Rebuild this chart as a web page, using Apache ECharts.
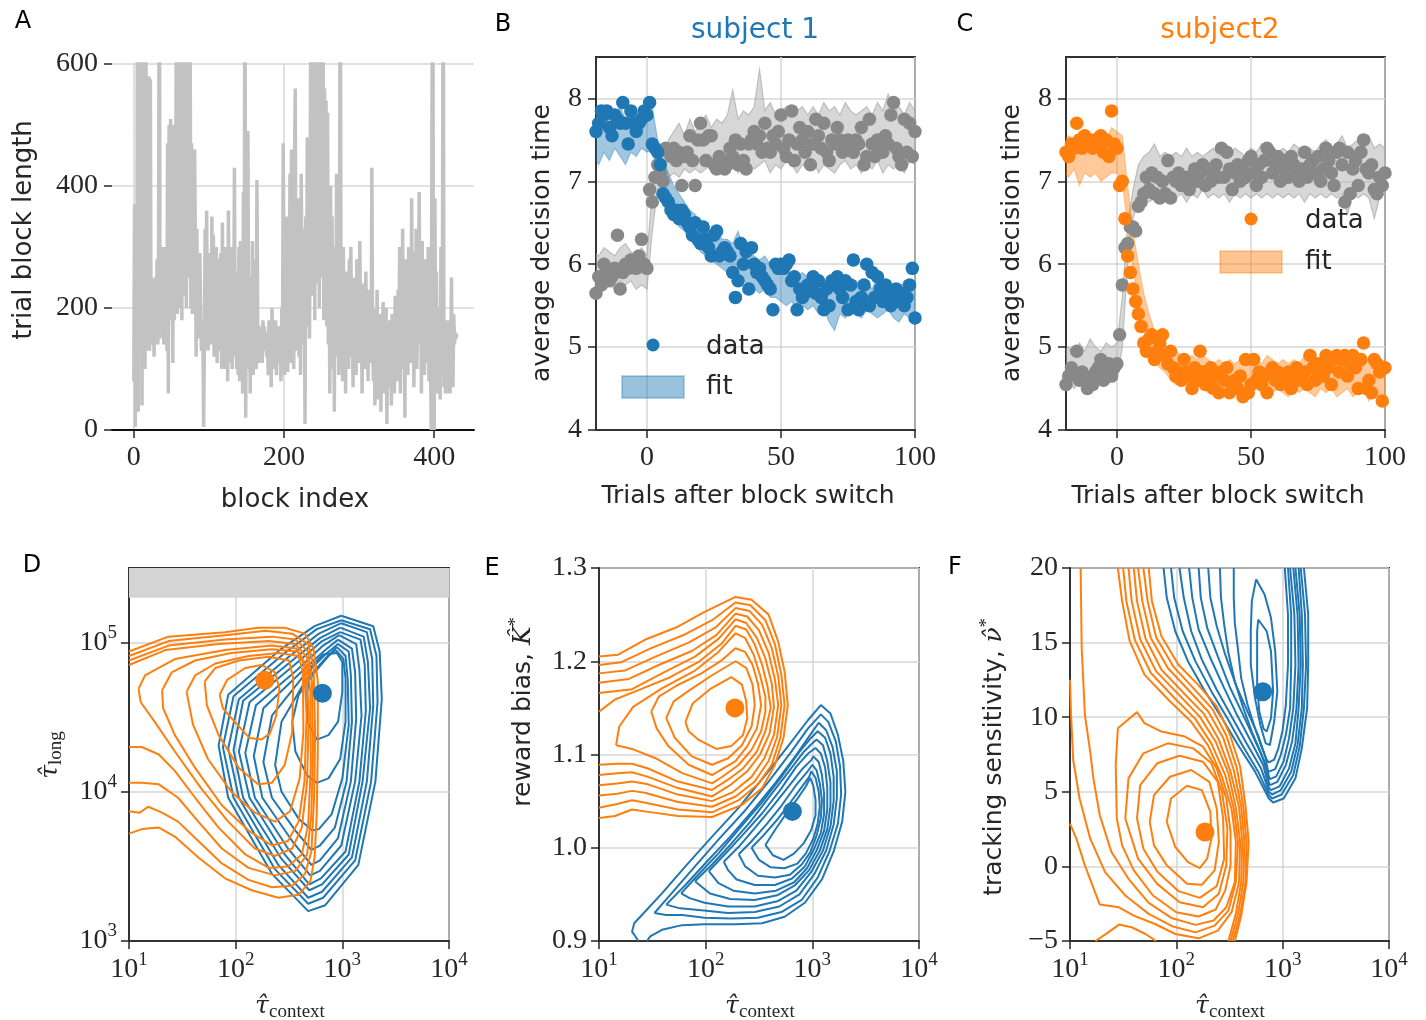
<!DOCTYPE html>
<html><head><meta charset="utf-8">
<script src="https://cdn.jsdelivr.net/npm/echarts@6/dist/echarts.min.js"></script>
<style>html,body{margin:0;padding:0;background:#fff}#c{width:1426px;height:1020px}</style>
</head><body><div id="c"></div>
<script>
// ---------------- DATA ----------------
// Panel A: trial block length per block index
const blockLengths = [
80,370,5,360,60,900,30,700,120,380,750,40,900,150,370,100,820,
130,570,140,580,130,575,160,250,140,200,120,210,250,170,
280,140,300,900,150,270,160,220,300,140,290,160,300,130,470,
60,500,180,510,200,440,110,500,180,300,400,
900,190,800,200,700,250,900,180,650,320,900,220,600,200,850,250,580,260,700,200,
470,190,430,240,460,310,120,330,200,180,150,290,200,130,180,150,
5,
140,330,160,360,150,130,290,150,260,140,350,160,320,120,230,150,300,110,250,140,280,130,290,100,340,150,200,100,300,120,230,80,360,110,200,150,300,
100,230,140,430,120,250,100,260,90,300,80,310,150,210,60,390,130,
900,
20,300,140,490,100,250,60,180,130,310,90,200,140,280,100,410,180,110,170,130,140,160,110,180,150,170,130,
160,120,150,90,180,120,160,70,200,150,100,170,130,180,90,150,110,170,140,160,
80,200,130,470,200,90,310,150,350,95,230,150,420,110,460,130,240,100,440,
560,130,240,160,380,120,300,90,420,200,330,140,260,10,350,170,480,200,300,150,420,
900,220,700,300,900,180,650,260,900,240,800,200,600,300,900,250,700,180,560,300,540,
170,520,140,300,60,400,160,350,100,280,30,300,140,420,120,260,90,340,900,
150,240,80,300,130,220,60,260,150,190,100,280,140,300,120,170,70,250,140,200,90,280,160,220,110,310,150,190,60,240,130,180,100,260,150,210,80,230,140,180,110,
430,
140,80,200,40,160,100,230,50,170,120,190,30,150,90,210,60,170,110,200,10,140,70,180,120,160,40,190,100,150,60,220,130,170,
80,230,130,300,60,250,150,330,100,200,20,280,140,220,90,300,160,250,110,380,130,200,70,290,150,330,100,240,170,390,140,260,60,310,120,200,90,280,150,230,110,300,80,260,140,
0,500,900,30,0,
380,100,260,60,200,110,160,50,300,90,250,900,70,180,60,
120,60,180,80,140,60,100,250,110,70,190,140,160,150,155,155,155
];

// Panels B, C: trials after block switch (-19 .. 100)
const trialFirst = -19, trialLast = 100;
const s1Data = [
7.6,7.7,7.85,7.8,7.85,7.65,7.55,7.8,7.75,7.7,
7.95,7.7,7.45,7.85,7.7,7.6,7.7,7.75,7.85,7.8,
7.95,7.45,7.4,7.35,7.2,6.85,6.8,6.75,6.65,6.6,
6.65,6.55,6.65,6.6,6.5,6.45,6.35,6.5,6.3,6.25,
6.45,6.3,6.2,6.1,6.35,6.4,6.1,6.15,6.2,6.15,
6.1,5.9,5.6,5.8,6.25,6.0,6.15,5.7,6.2,6.0,
5.9,5.95,5.85,5.8,5.75,5.7,5.45,6.0,5.95,6.0,
5.95,6.0,6.05,5.8,5.85,5.45,5.7,5.6,5.65,5.75,
5.7,5.85,5.65,5.8,5.6,5.45,5.7,5.5,5.8,5.75,
5.85,5.7,5.6,5.8,5.45,5.75,6.05,5.55,5.45,5.6,
5.75,6.0,5.5,5.9,5.6,5.85,5.7,5.55,5.75,5.65,
5.5,5.6,5.7,5.55,5.65,5.5,5.6,5.75,5.95,5.35];
const s1Other = [
5.65,5.85,5.75,6.0,5.9,5.8,5.85,5.95,6.35,5.7,
5.9,6.0,5.95,6.05,6.0,5.95,6.1,6.3,6.0,5.95,
6.9,6.75,7.05,7.2,7.1,7.0,7.4,7.35,7.3,7.4,
7.25,7.35,6.95,7.3,7.35,7.55,7.25,6.95,7.5,7.7,
7.5,7.25,7.55,7.55,7.2,7.15,7.3,7.25,7.15,7.2,
7.4,7.3,7.5,7.2,7.45,7.25,7.15,7.45,7.5,7.6,
7.45,7.55,7.35,7.7,7.4,7.35,7.55,7.45,7.6,7.8,
7.4,7.3,7.5,7.85,7.25,7.45,7.65,7.5,7.35,7.6,
7.2,7.45,7.75,7.55,7.4,7.7,7.35,7.25,7.5,7.45,
7.65,7.5,7.35,7.4,7.5,7.45,7.35,7.5,7.45,7.65,
7.2,7.3,7.75,7.45,7.3,7.5,7.4,7.35,7.55,7.45,
7.8,7.95,7.4,7.3,7.2,7.75,7.35,7.7,7.3,7.6];
const s2Data = [
7.35,7.3,7.45,7.4,7.7,7.5,7.4,7.55,7.45,7.5,
7.4,7.5,7.45,7.55,7.35,7.5,7.3,7.85,7.45,7.4,
6.95,7.0,6.55,6.1,5.9,5.7,5.55,5.4,5.25,5.05,
4.95,5.1,5.15,4.85,4.95,5.05,5.15,4.9,4.8,4.95,
4.75,4.65,4.7,4.6,4.85,4.7,4.65,4.5,4.75,4.6,
4.95,4.7,4.55,4.6,4.75,4.5,4.65,4.45,4.7,4.6,
4.75,4.45,4.55,4.6,4.5,4.65,4.4,4.85,4.45,4.55,
4.85,4.6,4.7,4.55,4.65,4.45,4.7,4.75,4.6,4.7,
4.55,4.65,4.6,4.7,4.5,4.65,4.75,4.6,4.65,4.7,
4.55,4.9,4.75,4.6,4.8,4.7,4.65,4.9,4.75,4.55,
4.85,4.9,4.7,4.85,4.9,4.65,4.8,4.9,4.75,4.5,
4.85,5.05,4.5,4.6,4.45,4.85,4.8,4.7,4.35,4.75];
const s2Other = [
4.55,4.65,4.75,4.7,4.95,4.6,4.7,4.65,4.5,4.6,
4.55,4.7,4.75,4.85,4.6,4.7,4.8,4.65,4.75,4.8,
5.15,5.75,6.2,6.25,6.45,6.45,6.4,6.7,6.75,6.85,
7.05,6.9,7.1,6.85,7.05,6.8,7.0,6.85,7.25,6.8,
7.05,7.0,7.1,6.95,7.0,7.05,6.9,7.05,7.15,7.0,
7.1,7.2,6.95,7.15,7.0,7.1,7.2,7.05,7.4,7.05,
7.35,7.15,6.9,7.1,7.2,7.0,7.15,7.05,7.25,7.3,
7.1,6.95,7.2,7.05,7.25,7.4,7.35,7.1,7.2,7.3,
7.0,7.15,7.25,7.05,7.3,7.2,7.1,7.0,7.15,7.35,
7.05,7.2,7.25,7.1,7.3,7.0,7.15,7.4,7.25,7.1,
6.95,7.35,7.4,7.2,6.75,7.35,6.85,7.15,7.25,6.95,
7.35,7.5,7.15,7.1,7.2,6.9,6.85,7.05,6.95,7.1];

// fit bands, every second trial from -20 to 100
const bandX = [-20,-18,-16,-14,-12,-10,-8,-6,-4,-2,0,2,4,6,8,10,12,14,16,18,20,22,24,26,28,30,32,34,36,38,40,42,44,46,48,50,52,54,56,58,60,62,64,66,68,70,72,74,76,78,80,82,84,86,88,90,92,94,96,98,100];
const s1FitLo = [7.3,7.2,7.35,7.25,7.4,7.3,7.2,7.35,7.3,7.4, 7.35,7.4,7.1,6.9,6.7,6.6,6.45,6.4,6.3,6.25, 6.15,6.1,6.05,6.0,5.95,5.9,5.85,5.8,5.8,5.75, 5.7,5.65,5.7,5.6,5.6,5.55,5.5,5.55,5.45,5.5, 5.45,5.5,5.4,5.45,5.3,5.2,5.4,5.35,5.45,5.4, 5.35,5.45,5.4,5.35,5.4,5.45,5.35,5.3,5.4,5.35, 5.4];
const s1FitHi = [7.8,7.9,7.75,7.85,7.8,7.9,7.75,7.85,7.8,7.9, 7.85,7.9,7.5,7.25,7.1,6.95,6.85,6.75,6.65,6.6, 6.5,6.45,6.4,6.45,6.3,6.3,6.25,6.4,6.2,6.15, 6.1,6.05,6.1,6.0,5.95,6.0,5.9,5.9,5.85,5.9, 5.85,5.8,5.85,5.8,5.75,5.8,5.75,5.85,5.75,5.8, 5.75,5.8,5.7,5.85,5.75,5.8,5.75,5.7,5.8,5.75, 5.7];
const s1OtherLo = [5.75,5.7,5.8,5.75,5.7,5.8,5.75,5.8,5.7,5.75, 5.7,6.4,6.9,7.0,7.05,7.1,7.05,7.15,7.1,7.15, 7.1,7.15,7.2,7.1,7.2,7.15,7.2,7.1,7.25,7.2, 7.15,7.2,7.25,7.1,7.2,7.15,7.25,7.2,7.1,7.2, 7.15,7.25,7.1,7.2,7.15,7.1,7.2,7.25,7.15,7.2, 7.1,7.2,7.15,7.25,7.1,7.2,7.15,7.2,7.1,7.25, 7.2];
const s1OtherHi = [6.15,6.1,6.2,6.15,6.1,6.2,6.25,6.15,6.1,6.2, 6.1,6.9,7.2,7.3,7.5,7.6,7.7,7.55,7.75,7.6, 7.7,7.8,7.65,7.75,7.7,7.8,8.1,7.75,7.85,7.8, 7.9,8.35,7.85,7.95,7.8,7.85,7.9,7.8,7.85,7.9, 7.8,7.9,7.8,7.95,7.85,7.9,7.8,7.95,7.85,7.8, 7.85,7.9,7.8,7.95,7.85,8.05,7.85,7.9,7.8,7.95, 7.85];
const s2FitLo = [7.1,7.05,7.15,6.95,7.1,7.05,7.1,7.0,7.05,7.1, 7.1,7.0,6.45,5.95,5.55,5.2,5.0,4.85,4.75,4.7, 4.6,4.55,4.6,4.55,4.5,4.55,4.5,4.45,4.5,4.45, 4.5,4.45,4.5,4.4,4.5,4.45,4.5,4.45,4.5,4.45, 4.5,4.45,4.4,4.5,4.45,4.5,4.45,4.4,4.5,4.45, 4.5,4.4,4.45,4.5,4.4,4.45,4.5,4.35,4.45,4.4, 4.45];
const s2FitHi = [7.5,7.55,7.5,7.6,7.55,7.5,7.6,7.55,7.5,7.65, 7.6,7.55,6.95,6.4,6.0,5.65,5.4,5.2,5.1,5.0, 4.95,4.95,4.9,4.85,4.9,4.85,4.9,4.85,4.8,4.85, 4.8,4.85,4.8,4.85,4.8,4.85,4.85,4.8,4.9,4.85, 4.8,4.85,4.8,4.85,4.8,4.9,4.85,4.8,4.85,4.9, 4.85,4.8,4.9,4.85,4.8,4.85,4.9,4.8,4.85,4.8, 4.85];
const s2OtherLo = [4.55,4.6,4.5,4.6,4.55,4.6,4.5,4.6,4.55,4.6, 4.6,5.0,6.0,6.55,6.75,6.8,6.75,6.8,6.85,6.8, 6.85,6.8,6.85,6.75,6.85,6.8,6.9,6.8,6.85,6.8, 6.85,6.75,6.85,6.8,6.85,6.8,6.85,6.8,6.85,6.8, 6.85,6.8,6.85,6.8,6.85,6.75,6.85,6.8,6.85,6.8, 6.85,6.8,6.85,6.6,6.85,6.8,6.85,6.8,6.55,6.8, 6.85];
const s2OtherHi = [4.95,5.0,4.9,5.05,4.95,5.1,5.0,4.95,5.05,5.0, 5.05,5.6,6.5,6.9,7.2,7.3,7.35,7.45,7.3,7.35, 7.3,7.35,7.3,7.4,7.3,7.35,7.3,7.35,7.4,7.3, 7.35,7.3,7.4,7.35,7.3,7.4,7.35,7.45,7.35,7.4, 7.35,7.4,7.35,7.45,7.4,7.35,7.4,7.35,7.45,7.5, 7.4,7.45,7.55,7.4,7.45,7.5,7.4,7.55,7.4,7.45, 7.4];

// Panels D-F: posterior density contours; x given as log10(tau_context)
// D: points are [log10 tau_context, log10 tau_long]
const dOrange = [
[[1.0,4.94],[1.37,5.04],[1.9,5.07],[2.21,5.10],[2.46,5.10],[2.65,5.06],[2.73,4.96],[2.77,4.74],[2.77,4.29],[2.76,3.85],[2.74,3.56],[2.7,3.40],[2.59,3.31],[2.4,3.29],[2.15,3.34],[1.9,3.42],[1.65,3.56],[1.43,3.70],[1.28,3.76],[1.12,3.75],[1.0,3.72]],
[[1.0,4.91],[1.37,5.01],[1.9,5.05],[2.28,5.08],[2.53,5.06],[2.68,4.99],[2.73,4.85],[2.745,4.40],[2.735,3.96],[2.71,3.60],[2.65,3.45],[2.53,3.37],[2.34,3.36],[2.12,3.41],[1.87,3.52],[1.65,3.67],[1.46,3.80],[1.31,3.86],[1.18,3.90],[1.1,3.86],[1.0,3.87]],
[[1.0,4.88],[1.37,4.98],[1.9,5.02],[2.34,5.04],[2.56,5.02],[2.68,4.94],[2.715,4.74],[2.725,4.29],[2.71,3.85],[2.67,3.58],[2.56,3.47],[2.37,3.44],[2.12,3.49],[1.87,3.62],[1.65,3.80],[1.46,3.96],[1.28,4.05],[1.12,4.06],[1.0,4.06]],
[[1.0,4.85],[1.34,4.95],[1.84,4.99],[2.31,5.01],[2.56,4.99],[2.67,4.9],[2.7,4.67],[2.705,4.18],[2.68,3.78],[2.62,3.58],[2.49,3.50],[2.31,3.49],[2.09,3.58],[1.84,3.76],[1.62,3.96],[1.43,4.14],[1.28,4.25],[1.12,4.30],[1.0,4.30]],
[[1.09,4.69],[1.15,4.78],[1.43,4.89],[1.9,4.95],[2.34,4.98],[2.57,4.96],[2.66,4.85],[2.685,4.51],[2.67,4.07],[2.62,3.76],[2.53,3.62],[2.37,3.57],[2.18,3.62],[1.93,3.80],[1.68,4.02],[1.43,4.27],[1.24,4.47],[1.11,4.60]],
[[1.31,4.68],[1.40,4.80],[1.62,4.88],[1.96,4.93],[2.34,4.955],[2.58,4.94],[2.64,4.86],[2.665,4.51],[2.645,4.07],[2.59,3.80],[2.49,3.67],[2.34,3.64],[2.12,3.74],[1.87,3.91],[1.62,4.16],[1.43,4.38],[1.32,4.56]],
[[1.54,4.67],[1.62,4.78],[1.81,4.86],[2.12,4.91],[2.4,4.93],[2.59,4.91],[2.63,4.80],[2.635,4.40],[2.6,4.09],[2.51,3.87],[2.37,3.80],[2.18,3.86],[1.96,4.0],[1.74,4.22],[1.6,4.45]],
[[1.71,4.74],[1.81,4.83],[2.03,4.88],[2.31,4.905],[2.5,4.88],[2.54,4.76],[2.53,4.40],[2.46,4.18],[2.34,4.06],[2.21,4.05],[2.03,4.16],[1.84,4.38],[1.73,4.58]],
[[1.85,4.65],[1.92,4.75],[2.09,4.83],[2.24,4.85],[2.37,4.80],[2.41,4.69],[2.38,4.51],[2.32,4.39],[2.24,4.35],[2.13,4.36],[1.99,4.47],[1.88,4.56]]
];
const dBlue = [
[[2.99,5.18],[3.29,5.11],[3.35,4.94],[3.37,4.62],[3.31,4.07],[3.15,3.51],[2.84,3.24],[2.68,3.2],[2.34,3.45],[1.93,3.96],[1.84,4.31],[1.93,4.65],[2.43,4.96],[2.74,5.11]],
[[2.99,5.15],[3.26,5.09],[3.32,4.91],[3.33,4.60],[3.27,4.07],[3.12,3.54],[2.82,3.29],[2.68,3.25],[2.37,3.48],[1.98,3.96],[1.88,4.30],[1.98,4.64],[2.46,4.93],[2.76,5.09]],
[[2.99,5.13],[3.23,5.07],[3.28,4.89],[3.29,4.58],[3.23,4.07],[3.09,3.56],[2.81,3.33],[2.68,3.29],[2.40,3.51],[2.03,3.96],[1.93,4.29],[2.03,4.62],[2.49,4.90],[2.78,5.06]],
[[2.98,5.10],[3.2,5.04],[3.24,4.87],[3.26,4.56],[3.19,4.07],[3.06,3.58],[2.81,3.38],[2.69,3.34],[2.43,3.55],[2.07,3.96],[1.98,4.28],[2.07,4.61],[2.53,4.88],[2.79,5.03]],
[[2.98,5.07],[3.17,5.02],[3.21,4.85],[3.22,4.54],[3.16,4.07],[3.03,3.60],[2.8,3.42],[2.69,3.38],[2.46,3.58],[2.13,3.96],[2.03,4.27],[2.13,4.60],[2.55,4.85],[2.81,5.01]],
[[2.97,5.05],[3.13,4.99],[3.16,4.82],[3.18,4.51],[3.12,4.07],[2.99,3.64],[2.79,3.47],[2.70,3.44],[2.49,3.62],[2.18,3.96],[2.09,4.26],[2.19,4.58],[2.58,4.82],[2.82,4.98]],
[[2.96,5.02],[3.09,4.96],[3.12,4.80],[3.13,4.49],[3.08,4.07],[2.96,3.69],[2.79,3.54],[2.71,3.51],[2.53,3.67],[2.25,3.96],[2.17,4.24],[2.26,4.56],[2.61,4.80],[2.84,4.95]],
[[2.96,4.99],[3.06,4.94],[3.08,4.78],[3.09,4.47],[3.04,4.07],[2.93,3.76],[2.79,3.64],[2.71,3.61],[2.56,3.74],[2.34,3.96],[2.26,4.20],[2.34,4.51],[2.63,4.77],[2.84,4.92]],
[[2.95,4.97],[3.03,4.91],[3.05,4.76],[3.06,4.45],[3.0,4.09],[2.9,3.85],[2.78,3.75],[2.72,3.74],[2.59,3.82],[2.43,4.0],[2.37,4.18],[2.43,4.47],[2.65,4.74],[2.85,4.9]],
[[2.94,4.95],[3.01,4.89],[3.03,4.76],[3.03,4.47],[2.98,4.22],[2.87,4.09],[2.76,4.06],[2.67,4.11],[2.56,4.27],[2.53,4.47],[2.59,4.65],[2.74,4.80],[2.87,4.91]],
[[2.95,4.93],[3.0,4.87],[3.0,4.67],[2.96,4.47],[2.87,4.38],[2.76,4.35],[2.68,4.46],[2.67,4.67],[2.71,4.84],[2.82,4.92]]
];
// E: points are [log10 tau_context, reward bias K*]
const eOrange = [
[[1.0,1.205],[1.18,1.207],[1.43,1.223],[1.74,1.237],[1.99,1.253],[2.28,1.269],[2.43,1.266],[2.59,1.25],[2.68,1.221],[2.74,1.189],[2.77,1.153],[2.73,1.118],[2.65,1.089],[2.53,1.064],[2.34,1.046],[2.06,1.033],[1.74,1.034],[1.43,1.039],[1.31,1.041],[1.15,1.034],[1.0,1.032]],
[[1.0,1.196],[1.21,1.199],[1.49,1.214],[1.81,1.229],[2.06,1.244],[2.28,1.263],[2.42,1.26],[2.56,1.244],[2.65,1.218],[2.71,1.185],[2.74,1.153],[2.7,1.118],[2.62,1.089],[2.49,1.068],[2.31,1.051],[2.06,1.038],[1.74,1.041],[1.4,1.049],[1.31,1.051],[1.17,1.047],[1.0,1.043]],
[[1.0,1.187],[1.24,1.19],[1.53,1.205],[1.84,1.22],[2.09,1.236],[2.28,1.257],[2.41,1.254],[2.53,1.239],[2.62,1.214],[2.68,1.184],[2.71,1.153],[2.67,1.119],[2.59,1.093],[2.46,1.071],[2.28,1.055],[2.06,1.044],[1.74,1.049],[1.43,1.059],[1.31,1.061],[1.17,1.058],[1.0,1.056]],
[[1.0,1.177],[1.28,1.181],[1.56,1.196],[1.87,1.211],[2.1,1.228],[2.28,1.251],[2.39,1.248],[2.5,1.233],[2.59,1.209],[2.65,1.18],[2.68,1.153],[2.64,1.121],[2.55,1.096],[2.43,1.076],[2.26,1.06],[2.06,1.05],[1.74,1.057],[1.46,1.068],[1.31,1.071],[1.17,1.069],[1.0,1.067]],
[[1.0,1.166],[1.31,1.17],[1.59,1.187],[1.9,1.205],[2.12,1.224],[2.28,1.245],[2.38,1.241],[2.48,1.225],[2.56,1.203],[2.62,1.176],[2.64,1.151],[2.6,1.123],[2.51,1.1],[2.39,1.082],[2.24,1.068],[2.06,1.055],[1.74,1.064],[1.46,1.076],[1.31,1.081],[1.17,1.08],[1.0,1.078]],
[[1.0,1.146],[1.15,1.159],[1.37,1.169],[1.65,1.182],[1.93,1.199],[2.15,1.219],[2.28,1.238],[2.38,1.234],[2.46,1.218],[2.53,1.196],[2.58,1.173],[2.61,1.15],[2.56,1.125],[2.48,1.103],[2.35,1.085],[2.21,1.073],[2.06,1.062],[1.74,1.071],[1.46,1.085],[1.31,1.09],[1.17,1.09],[1.0,1.089]],
[[1.16,1.11],[1.19,1.13],[1.32,1.151],[1.59,1.171],[1.9,1.19],[2.12,1.21],[2.28,1.23],[2.37,1.225],[2.45,1.207],[2.51,1.185],[2.56,1.162],[2.56,1.146],[2.52,1.125],[2.43,1.105],[2.31,1.089],[2.18,1.078],[2.06,1.069],[1.78,1.08],[1.53,1.096],[1.31,1.106]],
[[1.49,1.146],[1.56,1.162],[1.73,1.174],[1.96,1.187],[2.15,1.201],[2.28,1.214],[2.37,1.21],[2.44,1.196],[2.49,1.176],[2.52,1.153],[2.48,1.128],[2.39,1.109],[2.28,1.093],[2.15,1.084],[2.06,1.078],[1.84,1.089],[1.65,1.109],[1.54,1.128]],
[[1.63,1.139],[1.7,1.157],[1.85,1.169],[2.06,1.185],[2.28,1.2],[2.38,1.193],[2.44,1.175],[2.46,1.153],[2.43,1.13],[2.34,1.11],[2.21,1.096],[2.06,1.089],[1.87,1.098],[1.71,1.118]],
[[1.81,1.135],[1.88,1.155],[2.04,1.17],[2.24,1.183],[2.34,1.175],[2.38,1.157],[2.39,1.139],[2.35,1.121],[2.24,1.109],[2.1,1.106],[1.93,1.116],[1.84,1.125]]
];
const eBlue = [
[[1.37,0.9],[1.31,0.91],[1.33,0.919],[1.42,0.93],[1.59,0.951],[1.81,0.98],[2.06,1.012],[2.31,1.043],[2.56,1.078],[2.78,1.11],[2.96,1.137],[3.08,1.153],[3.17,1.144],[3.24,1.121],[3.29,1.093],[3.31,1.06],[3.28,1.028],[3.2,0.996],[3.09,0.966],[2.93,0.941],[2.74,0.926],[2.53,0.919],[2.28,0.918],[1.99,0.918],[1.78,0.917],[1.59,0.912],[1.48,0.905],[1.45,0.9]],
[[1.52,0.93],[1.68,0.951],[1.9,0.98],[2.13,1.01],[2.37,1.04],[2.59,1.071],[2.79,1.101],[2.96,1.128],[3.08,1.143],[3.15,1.135],[3.22,1.114],[3.26,1.087],[3.27,1.057],[3.24,1.026],[3.16,0.996],[3.05,0.968],[2.9,0.944],[2.71,0.931],[2.49,0.925],[2.24,0.924],[1.99,0.925],[1.78,0.928],[1.63,0.928]],
[[1.63,0.939],[1.81,0.96],[2.01,0.985],[2.23,1.012],[2.45,1.041],[2.65,1.069],[2.84,1.098],[2.98,1.121],[3.06,1.134],[3.13,1.126],[3.19,1.108],[3.23,1.082],[3.23,1.053],[3.2,1.025],[3.13,0.997],[3.02,0.972],[2.88,0.95],[2.69,0.937],[2.46,0.931],[2.21,0.93],[1.96,0.933],[1.76,0.935]],
[[1.77,0.951],[1.93,0.971],[2.12,0.994],[2.32,1.021],[2.53,1.049],[2.71,1.076],[2.88,1.103],[2.99,1.118],[3.05,1.125],[3.12,1.118],[3.17,1.101],[3.2,1.076],[3.2,1.05],[3.17,1.023],[3.1,0.997],[2.99,0.974],[2.85,0.954],[2.68,0.943],[2.46,0.937],[2.21,0.937],[1.99,0.941],[1.85,0.946]],
[[1.9,0.964],[2.06,0.982],[2.23,1.003],[2.42,1.028],[2.6,1.055],[2.78,1.082],[2.92,1.103],[3.0,1.112],[3.04,1.116],[3.1,1.11],[3.14,1.093],[3.17,1.07],[3.17,1.045],[3.14,1.02],[3.07,0.997],[2.97,0.976],[2.84,0.96],[2.67,0.949],[2.46,0.944],[2.23,0.945],[2.04,0.951]],
[[2.03,0.975],[2.18,0.993],[2.35,1.014],[2.53,1.037],[2.7,1.062],[2.85,1.087],[2.96,1.101],[3.03,1.107],[3.08,1.101],[3.12,1.086],[3.14,1.065],[3.14,1.041],[3.11,1.018],[3.04,0.997],[2.95,0.978],[2.83,0.963],[2.66,0.954],[2.46,0.951],[2.26,0.954],[2.12,0.962]],
[[2.17,0.985],[2.31,1.001],[2.46,1.021],[2.62,1.043],[2.78,1.066],[2.91,1.085],[2.99,1.094],[3.01,1.098],[3.06,1.092],[3.09,1.078],[3.11,1.058],[3.11,1.036],[3.08,1.016],[3.01,0.997],[2.93,0.98],[2.81,0.967],[2.65,0.96],[2.46,0.96],[2.29,0.966],[2.21,0.976]],
[[2.31,0.993],[2.43,1.007],[2.57,1.025],[2.71,1.045],[2.84,1.066],[2.95,1.081],[3.0,1.089],[3.04,1.083],[3.07,1.069],[3.09,1.051],[3.08,1.032],[3.04,1.013],[2.98,0.995],[2.9,0.982],[2.79,0.971],[2.65,0.968],[2.49,0.97],[2.37,0.98]],
[[2.43,1.0],[2.54,1.013],[2.67,1.03],[2.79,1.048],[2.9,1.065],[2.97,1.076],[2.99,1.082],[3.03,1.075],[3.06,1.06],[3.07,1.044],[3.05,1.026],[3.01,1.01],[2.94,0.994],[2.86,0.983],[2.74,0.978],[2.61,0.979],[2.5,0.987]],
[[2.56,1.003],[2.65,1.019],[2.74,1.034],[2.85,1.051],[2.94,1.066],[2.98,1.075],[3.01,1.066],[3.03,1.051],[3.03,1.035],[2.99,1.019],[2.92,1.005],[2.83,0.994],[2.73,0.987],[2.63,0.992]]
];
// F: points are [log10 tau_context, tracking sensitivity nu*]
const fOrange = [
[[1.74,20],[1.77,17.78],[1.86,15.43],[2.02,13.52],[2.21,12.13],[2.38,10.72],[2.5,8.92],[2.6,6.68],[2.65,4.1],[2.68,1.64],[2.66,-1.05],[2.61,-3.3],[2.55,-5]],
[[1.69,20],[1.73,17.78],[1.81,15.36],[1.97,13.41],[2.16,11.95],[2.34,10.54],[2.47,8.77],[2.57,6.57],[2.63,4.06],[2.66,1.64],[2.65,-1.05],[2.6,-3.25],[2.53,-5]],
[[1.64,20],[1.68,17.78],[1.76,15.31],[1.92,13.3],[2.12,11.77],[2.3,10.38],[2.44,8.63],[2.54,6.46],[2.61,4.01],[2.64,1.64],[2.63,-1.05],[2.58,-3.21],[2.51,-5]],
[[1.6,20],[1.63,17.78],[1.71,15.27],[1.86,13.18],[2.07,11.61],[2.26,10.22],[2.4,8.5],[2.51,6.35],[2.59,3.97],[2.62,1.64],[2.61,-1.05],[2.56,-3.16],[2.49,-5]],
[[1.55,20],[1.58,17.78],[1.66,15.22],[1.81,13.07],[2.03,11.46],[2.22,10.04],[2.37,8.36],[2.49,6.23],[2.56,3.92],[2.6,1.64],[2.59,-1.05],[2.52,-3.07],[2.39,-4.3],[2.21,-4.82],[1.99,-4.53],[1.8,-3.86],[1.6,-3.3],[1.46,-2.74],[1.28,-2.56],[1.14,0.07],[1.06,1.86],[1.0,2.87]],
[[1.5,20],[1.53,17.78],[1.61,15.18],[1.76,12.96],[1.98,11.3],[2.18,9.87],[2.33,8.23],[2.46,6.12],[2.54,3.88],[2.58,1.64],[2.56,-1.05],[2.49,-2.96],[2.36,-3.97],[2.18,-4.42],[1.96,-4.01],[1.74,-3.18],[1.52,-1.95],[1.33,-0.38],[1.19,1.86],[1.09,4.55],[1.03,7.13],[1.01,10.16],[1.0,12.51]],
[[1.45,20],[1.49,17.78],[1.56,15.13],[1.7,12.85],[1.93,11.14],[2.14,9.69],[2.3,8.09],[2.43,6.01],[2.52,3.83],[2.56,1.64],[2.55,-1.05],[2.47,-2.74],[2.35,-3.63],[2.18,-3.92],[1.96,-3.48],[1.74,-2.44],[1.55,-0.83],[1.39,0.96],[1.28,3.43],[1.22,5.9],[1.19,7.69],[1.14,10.16],[1.11,14.64],[1.1,20]],
[[1.44,3.21],[1.43,6.79],[1.45,9.26],[1.63,10.34],[1.7,9.6],[1.86,9.04],[2.08,8.7],[2.25,8.03],[2.38,6.57],[2.47,4.55],[2.51,2.31],[2.51,0.07],[2.46,-1.61],[2.37,-2.89],[2.21,-3.36],[2.0,-3.07],[1.78,-1.95],[1.6,-0.27],[1.49,1.41]],
[[1.52,3.21],[1.55,5.9],[1.69,7.58],[1.92,8.25],[2.16,7.91],[2.33,6.91],[2.43,5.0],[2.48,2.53],[2.47,0.07],[2.4,-1.84],[2.25,-2.74],[2.03,-2.4],[1.82,-1.17],[1.64,0.52]],
[[1.63,3.21],[1.66,5.45],[1.82,6.91],[2.03,7.42],[2.25,7.02],[2.39,5.67],[2.44,3.21],[2.45,0.52],[2.38,-1.32],[2.22,-2.11],[2.02,-1.66],[1.82,-0.34],[1.69,1.19]],
[[1.75,2.98],[1.79,4.78],[1.94,6.01],[2.14,6.46],[2.31,5.67],[2.38,3.88],[2.4,1.64],[2.36,-0.27],[2.24,-1.23],[2.1,-1.17],[1.91,0.07],[1.79,1.41]],
[[1.91,2.98],[1.95,4.55],[2.1,5.4],[2.24,5.11],[2.32,3.65],[2.33,1.86],[2.29,0.52],[2.22,-0.11],[2.11,0.29],[1.99,1.3]],
[[1.24,-5],[1.36,-4.42],[1.46,-3.9],[1.58,-4.08],[1.71,-4.53],[1.81,-5]]
];
const fBlue = [
[[1.88,20],[1.91,18.0],[1.99,15.76],[2.11,13.74],[2.27,11.73],[2.43,9.93],[2.58,8.14],[2.74,6.35],[2.87,4.55],[2.91,4.28],[3.01,4.55],[3.12,5.9],[3.18,7.91],[3.23,10.61],[3.24,13.52],[3.24,16.88],[3.2,20]],
[[1.95,20],[1.98,18.0],[2.06,15.76],[2.18,13.74],[2.33,11.73],[2.48,9.93],[2.62,8.14],[2.77,6.35],[2.87,4.78],[2.9,4.55],[2.99,4.82],[3.1,6.12],[3.16,8.03],[3.2,10.61],[3.22,13.52],[3.21,16.88],[3.17,20]],
[[2.03,20],[2.07,18.0],[2.14,15.76],[2.24,13.86],[2.38,11.84],[2.52,10.04],[2.66,8.25],[2.8,6.52],[2.87,5.0],[2.9,4.82],[2.98,5.09],[3.08,6.35],[3.14,8.14],[3.18,10.61],[3.19,13.52],[3.18,16.88],[3.15,20]],
[[2.12,20],[2.15,18.0],[2.21,15.87],[2.32,13.97],[2.45,11.95],[2.57,10.16],[2.7,8.41],[2.82,6.75],[2.87,5.27],[2.89,5.11],[2.97,5.36],[3.06,6.57],[3.12,8.25],[3.15,10.61],[3.17,13.52],[3.16,16.88],[3.12,20]],
[[2.21,20],[2.23,18.0],[2.29,15.99],[2.39,14.08],[2.5,12.06],[2.62,10.27],[2.73,8.59],[2.83,7.02],[2.87,5.63],[2.88,5.45],[2.95,5.67],[3.03,6.79],[3.09,8.41],[3.13,10.61],[3.15,13.52],[3.14,16.88],[3.1,20]],
[[2.3,20],[2.32,18.0],[2.38,16.1],[2.46,14.19],[2.56,12.17],[2.67,10.38],[2.77,8.77],[2.84,7.29],[2.87,6.01],[2.88,5.85],[2.94,6.03],[3.01,7.06],[3.06,8.59],[3.1,10.61],[3.12,13.52],[3.11,16.88],[3.07,20]],
[[2.41,20],[2.42,18.0],[2.45,16.21],[2.49,14.3],[2.55,12.4],[2.63,10.61],[2.71,9.04],[2.79,7.69],[2.85,6.52],[2.87,6.35],[2.93,6.52],[2.98,7.42],[3.03,8.81],[3.07,10.61],[3.08,13.52],[3.08,16.88],[3.05,20]],
[[2.54,20],[2.54,18.0],[2.55,16.32],[2.58,14.53],[2.61,12.62],[2.67,10.83],[2.74,9.26],[2.8,8.03],[2.85,7.13],[2.87,6.97],[2.92,7.15],[2.96,7.91],[3.0,9.15],[3.03,10.83],[3.05,13.52],[3.05,16.88],[3.02,20]],
[[2.75,19.24],[2.83,18.23],[2.89,16.66],[2.93,14.42],[2.95,11.73],[2.92,9.71],[2.88,8.14],[2.84,8.25],[2.79,9.48],[2.74,11.28],[2.7,13.52],[2.7,15.76],[2.71,17.78]],
[[2.77,16.55],[2.85,15.76],[2.89,14.42],[2.91,11.73],[2.89,9.93],[2.85,9.04],[2.82,9.22],[2.78,10.38],[2.76,12.17],[2.76,14.42],[2.76,15.76]]
];
// best-fit points [tau_context, parameter]
const dBest = {orange: [188, 56000], blue: [650, 45700]};
const eBest = {orange: [188, 1.15], blue: [650, 1.039]};
const fBest = {orange: [186, 2.3], blue: [650, 11.7]};
const dPriorBound = [200000, 316228]; // excluded tau_long range (grey band)

// tick values
const ticksA_x = [0, 200, 400];
const ticksBC_x = [0, 50, 100];
const ticksBC_y = [4, 5, 6, 7, 8];
const ticksLogX = [10, 100, 1000, 10000];
const ticksD_y = [1000, 10000, 100000];
const ticksE_y = [0.9, 1.0, 1.1, 1.2, 1.3];

// ---------------- STYLE ----------------
const BLUE = '#1f77b4', ORANGE = '#ff7f0e', GREY = '#888888';
const SERIF = 'Liberation Serif', SANS = 'DejaVu Sans';
const INK = '#262626', GRIDC = '#d6d6d6';

const chart = echarts.init(document.getElementById('c'), null, {renderer: 'canvas'});

const grids = [
  {left: 112, top: 64, width: 362, height: 366},
  {left: 596, top: 57, width: 319, height: 373},
  {left: 1066, top: 57, width: 319, height: 373},
  {left: 129, top: 568, width: 320, height: 373},
  {left: 599, top: 568, width: 320, height: 373},
  {left: 1070, top: 568, width: 319, height: 373}
].map((g, i) => Object.assign({
  show: i > 0, borderColor: '#333', borderWidth: 2, backgroundColor: 'rgba(0,0,0,0)',
  containLabel: false, outerBoundsMode: 'none'
}, g));

const tickStyle = {show: true, inside: false, length: 8, lineStyle: {color: INK, width: 1.5}};
const splitStyle = {show: true, lineStyle: {color: GRIDC, width: 1.5}};
const lblBase = {fontFamily: SERIF, fontSize: 28, color: INK};
const logLabel = (vals, margin) => ({
  customValues: vals, margin: margin, fontFamily: SERIF, fontSize: 28, color: INK,
  formatter: v => '{b|10}{s|' + Math.round(Math.log10(v)) + '}',
  rich: {b: {fontFamily: SERIF, fontSize: 28, color: INK, lineHeight: 38},
         s: {fontFamily: SERIF, fontSize: 19, color: INK, verticalAlign: 'top', lineHeight: 19}}
});
const boxAxisLine = {show: true, onZero: false, lineStyle: {color: '#333', width: 2}};

const xAxes = [
  {gridIndex: 0, type: 'value', min: -29, max: 453,
   axisLine: {show: true, onZero: false, lineStyle: {color: '#111', width: 2}},
   axisTick: Object.assign({customValues: ticksA_x}, tickStyle),
   axisLabel: Object.assign({customValues: ticksA_x, margin: 14}, lblBase), splitLine: splitStyle},
  {gridIndex: 1, type: 'value', min: trialFirst, max: trialLast, axisLine: boxAxisLine,
   axisTick: Object.assign({customValues: ticksBC_x}, tickStyle),
   axisLabel: Object.assign({customValues: ticksBC_x, margin: 14}, lblBase), splitLine: splitStyle},
  {gridIndex: 2, type: 'value', min: trialFirst, max: trialLast, axisLine: boxAxisLine,
   axisTick: Object.assign({customValues: ticksBC_x}, tickStyle),
   axisLabel: Object.assign({customValues: ticksBC_x, margin: 14}, lblBase), splitLine: splitStyle},
  {gridIndex: 3, type: 'log', logBase: 10, min: 10, max: 10000, axisLine: boxAxisLine,
   axisTick: Object.assign({customValues: ticksLogX}, tickStyle), minorTick: {show: false},
   axisLabel: logLabel(ticksLogX, 10), splitLine: splitStyle},
  {gridIndex: 4, type: 'log', logBase: 10, min: 10, max: 10000, axisLine: boxAxisLine,
   axisTick: Object.assign({customValues: ticksLogX}, tickStyle), minorTick: {show: false},
   axisLabel: logLabel(ticksLogX, 10), splitLine: splitStyle},
  {gridIndex: 5, type: 'log', logBase: 10, min: 10, max: 10000, axisLine: boxAxisLine,
   axisTick: Object.assign({customValues: ticksLogX}, tickStyle), minorTick: {show: false},
   axisLabel: logLabel(ticksLogX, 10), splitLine: splitStyle}
];
const yAxes = [
  {gridIndex: 0, type: 'value', min: 0, max: 600, interval: 200,
   axisLine: {show: false, onZero: false}, axisTick: tickStyle,
   axisLabel: Object.assign({margin: 14}, lblBase), splitLine: splitStyle},
  {gridIndex: 1, type: 'value', min: 4, max: 8.5, axisLine: boxAxisLine,
   axisTick: Object.assign({customValues: ticksBC_y}, tickStyle),
   axisLabel: Object.assign({customValues: ticksBC_y, margin: 14}, lblBase), splitLine: splitStyle},
  {gridIndex: 2, type: 'value', min: 4, max: 8.5, axisLine: boxAxisLine,
   axisTick: Object.assign({customValues: ticksBC_y}, tickStyle),
   axisLabel: Object.assign({customValues: ticksBC_y, margin: 14}, lblBase), splitLine: splitStyle},
  {gridIndex: 3, type: 'log', logBase: 10, min: 1000, max: dPriorBound[1], axisLine: boxAxisLine,
   axisTick: Object.assign({customValues: ticksD_y}, tickStyle), minorTick: {show: false},
   axisLabel: logLabel(ticksD_y, 12), splitLine: splitStyle},
  {gridIndex: 4, type: 'value', min: 0.9, max: 1.3, axisLine: boxAxisLine,
   axisTick: Object.assign({customValues: ticksE_y}, tickStyle),
   axisLabel: Object.assign({customValues: ticksE_y, margin: 12, formatter: v => v.toFixed(1)}, lblBase),
   splitLine: splitStyle},
  {gridIndex: 5, type: 'value', min: -5, max: 20, interval: 5, axisLine: boxAxisLine,
   axisTick: tickStyle,
   axisLabel: Object.assign({margin: 12, formatter: v => (v < 0 ? '\u2212' + Math.abs(v) : '' + v)}, lblBase),
   splitLine: splitStyle}
];

const series = [];
// Panel A
series.push({type: 'line', xAxisIndex: 0, yAxisIndex: 0, showSymbol: false, silent: true, clip: true,
  data: blockLengths.map((v, i) => [i, v]), lineStyle: {color: '#c2c2c2', width: 3.5}, z: 2});

// Bands (custom polygons through the axes' coordinate system)
function bandSeries(ai, lo, hi, fill, edge) {
  return {
    type: 'custom', xAxisIndex: ai, yAxisIndex: ai, clip: true, silent: true, z: 2,
    data: bandX.map((x, i) => [x, lo[i], hi[i]]),
    encode: {x: 0, y: [1, 2]},
    renderItem: function (params, api) {
      if (params.dataIndex !== 0) return;
      const up = bandX.map((x, i) => api.coord([x, hi[i]]));
      const dn = bandX.map((x, i) => api.coord([x, lo[i]]));
      return {type: 'group', children: [
        {type: 'polygon', shape: {points: up.concat(dn.slice().reverse())}, style: {fill: fill}},
        {type: 'polyline', shape: {points: up}, style: {stroke: edge, fill: null, lineWidth: 1.2}},
        {type: 'polyline', shape: {points: dn}, style: {stroke: edge, fill: null, lineWidth: 1.2}}
      ]};
    }
  };
}
const trials = [];
for (let t = trialFirst; t <= trialLast; t++) trials.push(t);
const DOT = 13.5;
series.push(bandSeries(1, s1OtherLo, s1OtherHi, 'rgba(175,175,175,0.5)', 'rgba(160,160,160,0.6)'));
series.push(bandSeries(1, s1FitLo, s1FitHi, 'rgba(31,119,180,0.42)', 'rgba(31,119,180,0.35)'));
series.push({type: 'scatter', xAxisIndex: 1, yAxisIndex: 1, symbolSize: DOT, silent: true, z: 3,
  itemStyle: {color: GREY, opacity: 1}, data: trials.map((t, i) => [t, s1Other[i]])});
series.push({type: 'scatter', xAxisIndex: 1, yAxisIndex: 1, symbolSize: DOT, silent: true, z: 4,
  itemStyle: {color: BLUE, opacity: 1}, data: trials.map((t, i) => [t, s1Data[i]])});
series.push(bandSeries(2, s2OtherLo, s2OtherHi, 'rgba(175,175,175,0.5)', 'rgba(160,160,160,0.6)'));
series.push(bandSeries(2, s2FitLo, s2FitHi, 'rgba(255,127,14,0.42)', 'rgba(255,127,14,0.35)'));
series.push({type: 'scatter', xAxisIndex: 2, yAxisIndex: 2, symbolSize: DOT, silent: true, z: 3,
  itemStyle: {color: GREY, opacity: 1}, data: trials.map((t, i) => [t, s2Other[i]])});
series.push({type: 'scatter', xAxisIndex: 2, yAxisIndex: 2, symbolSize: DOT, silent: true, z: 4,
  itemStyle: {color: ORANGE, opacity: 1}, data: trials.map((t, i) => [t, s2Data[i]])});

// Contours
function contourSeries(ai, lines, color, logY, yr) {
  lines.forEach(pts => {
    const first = pts[0];
    const onEdge = p => p[0] <= 1.0001 || p[0] >= 3.9999 || p[1] <= yr[0] + 1e-6 || p[1] >= yr[1] - 1e-6;
    const closed = !onEdge(first);
    const seq = closed ? pts.concat([first]) : pts;
    series.push({type: 'line', xAxisIndex: ai, yAxisIndex: ai, showSymbol: false, silent: true, clip: true,
      smooth: false, z: 3,
      lineStyle: {color: color, width: 2},
      data: seq.map(p => [Math.pow(10, p[0]), logY ? Math.pow(10, p[1]) : p[1]])});
  });
}
// grey prior band in D
series.push({type: 'scatter', xAxisIndex: 3, yAxisIndex: 3, data: [], silent: true,
  markArea: {silent: true, itemStyle: {color: '#d4d4d4', opacity: 1},
    data: [[{xAxis: 10, yAxis: dPriorBound[0]}, {xAxis: 10000, yAxis: dPriorBound[1]}]]}});
contourSeries(3, dBlue, BLUE, true, [3, 5.5]);
contourSeries(3, dOrange, ORANGE, true, [3, 5.5]);
contourSeries(4, eBlue, BLUE, false, [0.9, 1.3]);
contourSeries(4, eOrange, ORANGE, false, [0.9, 1.3]);
contourSeries(5, fBlue, BLUE, false, [-5, 20]);
contourSeries(5, fOrange, ORANGE, false, [-5, 20]);
[[3, dBest], [4, eBest], [5, fBest]].forEach(([ai, b]) => {
  series.push({type: 'scatter', xAxisIndex: ai, yAxisIndex: ai, symbolSize: 19, silent: true, z: 6,
    itemStyle: {color: ORANGE, opacity: 1}, data: [b.orange]});
  series.push({type: 'scatter', xAxisIndex: ai, yAxisIndex: ai, symbolSize: 19, silent: true, z: 6,
    itemStyle: {color: BLUE, opacity: 1}, data: [b.blue]});
});

// ---------------- TEXT ----------------
function txt(x, y, text, size, opts) {
  opts = opts || {};
  return {type: 'text', x: x, y: y, rotation: opts.rot || 0, z: 100, silent: true,
    style: Object.assign({text: text, fontFamily: opts.family || SANS, fontSize: size, fill: opts.color || INK,
      align: 'center', verticalAlign: 'middle', textAlign: 'center', textVerticalAlign: 'middle'}, opts.extra || {})};
}
const tauRich = {
  a: {fontFamily: 'DejaVu Serif', fontStyle: 'italic', fontSize: 25, fill: INK, lineHeight: 32},
  b: {fontFamily: SERIF, fontSize: 19, fill: INK, lineHeight: 18, verticalAlign: 'bottom'},
  n: {fontFamily: SANS, fontSize: 25, fill: INK, lineHeight: 32},
  p: {fontFamily: SERIF, fontSize: 18, fill: INK, lineHeight: 18, verticalAlign: 'top'}
};
const R90 = Math.PI / 2;
const graphics = [
  txt(23, 22, 'A', 24, {color: '#000'}),
  txt(503, 25, 'B', 24, {color: '#000'}),
  txt(965, 25, 'C', 24, {color: '#000'}),
  txt(32, 566, 'D', 24, {color: '#000'}),
  txt(492, 569, 'E', 24, {color: '#000'}),
  txt(955, 568, 'F', 24, {color: '#000'}),
  txt(755, 31, 'subject 1', 28, {color: BLUE}),
  txt(1220, 31, 'subject2', 28, {color: ORANGE}),
  txt(24, 230, 'trial block length', 26, {rot: R90}),
  txt(295, 500, 'block index', 26),
  txt(542, 243, 'average decision time', 25, {rot: R90}),
  txt(748, 496, 'Trials after block switch', 25),
  txt(1012, 243, 'average decision time', 25, {rot: R90}),
  txt(1218, 496, 'Trials after block switch', 25),
  txt(50, 755, '{a|\u03C4\u0302}{b|long}', 25, {rot: R90, extra: {rich: tauRich}}),
  txt(290, 1006, '{a|\u03C4\u0302}{b|context}', 25, {extra: {rich: tauRich}}),
  txt(760, 1006, '{a|\u03C4\u0302}{b|context}', 25, {extra: {rich: tauRich}}),
  txt(1230, 1006, '{a|\u03C4\u0302}{b|context}', 25, {extra: {rich: tauRich}}),
  txt(523, 712, '{n|reward bias, }{a|K\u0302}{p|*}', 25, {rot: R90, extra: {rich: tauRich}}),
  txt(994, 757, '{n|tracking sensitivity, }{a|\u03BD\u0302}{p|*}', 25, {rot: R90, extra: {rich: tauRich}}),
  // legend B
  {type: 'circle', shape: {cx: 653, cy: 345, r: 6.5}, style: {fill: BLUE}, z: 100},
  {type: 'rect', shape: {x: 622, y: 376, width: 62, height: 22}, style: {fill: 'rgba(31,119,180,0.45)', stroke: 'rgba(31,119,180,0.3)', lineWidth: 2}, z: 100},
  {type: 'text', x: 706, y: 347, z: 100, style: {text: 'data', fontFamily: SANS, fontSize: 26, fill: INK, align: 'left', verticalAlign: 'middle', textAlign: 'left', textVerticalAlign: 'middle'}},
  {type: 'text', x: 706, y: 387, z: 100, style: {text: 'fit', fontFamily: SANS, fontSize: 26, fill: INK, align: 'left', verticalAlign: 'middle', textAlign: 'left', textVerticalAlign: 'middle'}},
  // legend C
  {type: 'circle', shape: {cx: 1251, cy: 219, r: 6.5}, style: {fill: ORANGE}, z: 100},
  {type: 'rect', shape: {x: 1220, y: 251, width: 62, height: 22}, style: {fill: 'rgba(255,127,14,0.45)', stroke: 'rgba(255,127,14,0.3)', lineWidth: 2}, z: 100},
  {type: 'text', x: 1305, y: 221, z: 100, style: {text: 'data', fontFamily: SANS, fontSize: 26, fill: INK, align: 'left', verticalAlign: 'middle', textAlign: 'left', textVerticalAlign: 'middle'}},
  {type: 'text', x: 1305, y: 262, z: 100, style: {text: 'fit', fontFamily: SANS, fontSize: 26, fill: INK, align: 'left', verticalAlign: 'middle', textAlign: 'left', textVerticalAlign: 'middle'}}
];

chart.setOption({
  animation: false,
  backgroundColor: '#ffffff',
  grid: grids,
  xAxis: xAxes,
  yAxis: yAxes,
  series: series,
  graphic: {elements: graphics}
});
</script>
</body></html>
